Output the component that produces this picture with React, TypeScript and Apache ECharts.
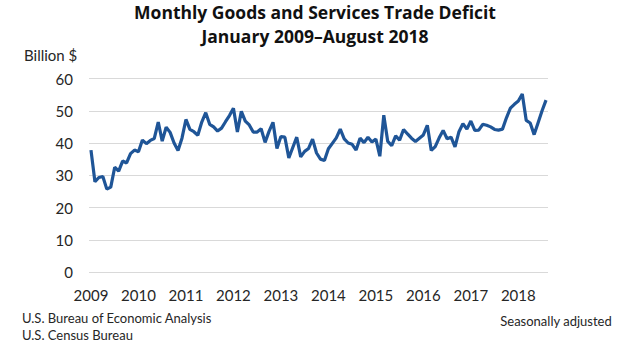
import React, { useEffect, useRef } from "react";
import * as echarts from "echarts";

const years = [2009, 2010, 2011, 2012, 2013, 2014, 2015, 2016, 2017, 2018];
const yTicks = [0, 10, 20, 30, 40, 50, 60];

// Monthly deficit, billion $ (Jan 2009 – Aug 2018)
const deficit2009 = [37.8, 28.0, 29.3, 29.6, 25.7, 26.3, 32.5, 31.3, 34.4, 33.8, 36.7, 37.8];
const deficit2010 = [37.3, 40.9, 39.8, 40.8, 41.4, 46.5, 40.6, 44.9, 43.3, 40.0, 37.7, 41.5];
const deficit2011 = [47.3, 44.2, 43.5, 42.4, 46.5, 49.4, 45.8, 45.0, 43.7, 44.6, 46.6, 48.5];
const deficit2012 = [50.8, 43.4, 49.8, 46.8, 45.6, 43.4, 43.4, 44.4, 40.2, 43.6, 46.4, 38.3];
const deficit2013 = [42.0, 41.8, 35.4, 38.6, 41.8, 35.7, 37.4, 38.3, 41.2, 36.9, 35.0, 34.6];
const deficit2014 = [38.2, 39.9, 41.6, 44.3, 41.3, 40.0, 39.6, 37.8, 41.5, 40.1, 41.8, 40.3];
const deficit2015 = [41.2, 35.9, 48.6, 40.5, 39.2, 42.2, 40.9, 44.2, 42.8, 41.5, 40.5, 41.5];
const deficit2016 = [42.5, 45.5, 37.7, 38.9, 41.6, 43.9, 41.3, 41.8, 38.8, 43.5, 46.0, 44.3];
const deficit2017 = [46.8, 43.9, 44.0, 45.8, 45.5, 45.0, 44.2, 44.0, 44.3, 47.8, 50.8, 52.0];
const deficit2018 = [53.0, 55.2, 47.0, 46.2, 42.6, 46.3, 50.0, 53.3];

const deficit = [
  ...deficit2009, ...deficit2010, ...deficit2011, ...deficit2012, ...deficit2013,
  ...deficit2014, ...deficit2015, ...deficit2016, ...deficit2017, ...deficit2018,
];

const months = deficit.map((_, i) => `${years[0] + Math.floor(i / 12)}-${String((i % 12) + 1).padStart(2, "0")}`);

const FONT = "Lato, 'Open Sans', sans-serif";
const TITLE_FONT = "'Open Sans', Lato, sans-serif";
const TEXT = "#262626";

export default function App() {
  const ref = useRef<HTMLDivElement>(null);

  useEffect(() => {
    if (!ref.current) return;
    const chart = echarts.init(ref.current, null, { renderer: "svg" });
    chart.setOption({
      animation: false,
      backgroundColor: "#ffffff",
      title: {
        text: "Monthly Goods and Services Trade Deficit\nJanuary 2009\u2013August 2018",
        left: "center",
        top: 0,
        padding: 0,
        textStyle: {
          fontFamily: TITLE_FONT,
          fontSize: 17.5,
          fontWeight: "bold",
          color: "#111111",
          lineHeight: 24,
        },
      },
      grid: { left: 89, right: 82, top: 78.5, bottom: 76, containLabel: false },
      xAxis: {
        type: "category",
        data: months,
        boundaryGap: true,
        axisLine: { show: false },
        axisTick: { show: false },
        splitLine: { show: false },
        axisLabel: {
          interval: (idx: number) => idx % 12 === 0,
          formatter: (v: string) => v.slice(0, 4),
          fontFamily: FONT,
          fontSize: 15,
          color: TEXT,
          margin: 15,
        },
      },
      yAxis: {
        type: "value",
        min: yTicks[0],
        max: yTicks[yTicks.length - 1],
        interval: 10,
        axisLine: { show: false },
        axisTick: { show: false },
        splitLine: { show: true, lineStyle: { color: "#d9d9d9", width: 1 } },
        axisLabel: { fontFamily: FONT, fontSize: 15, color: TEXT, margin: 16 },
      },
      series: [
        {
          type: "line",
          data: deficit,
          showSymbol: false,
          symbol: "none",
          lineStyle: { color: "#1f5597", width: 3.2 },
          itemStyle: { color: "#1f5597" },
        },
      ],
      graphic: [
        {
          type: "text",
          left: 24,
          top: 47,
          style: { text: "Billion $", fontFamily: FONT, fontSize: 15, fill: TEXT },
        },
        {
          type: "text",
          left: 22,
          top: 311,
          style: { text: "U.S. Bureau of Economic Analysis", fontFamily: FONT, fontSize: 13, fill: TEXT },
        },
        {
          type: "text",
          left: 22,
          top: 328,
          style: { text: "U.S. Census Bureau", fontFamily: FONT, fontSize: 13, fill: TEXT },
        },
        {
          type: "text",
          right: 18,
          top: 314,
          style: { text: "Seasonally adjusted", fontFamily: FONT, fontSize: 13, fill: TEXT },
        },
      ],
    });
    return () => chart.dispose();
  }, []);

  return (
    <div
      ref={ref}
      style={{ position: "fixed", left: 0, top: 0, width: 630, height: 348, background: "#fff" }}
    />
  );
}
